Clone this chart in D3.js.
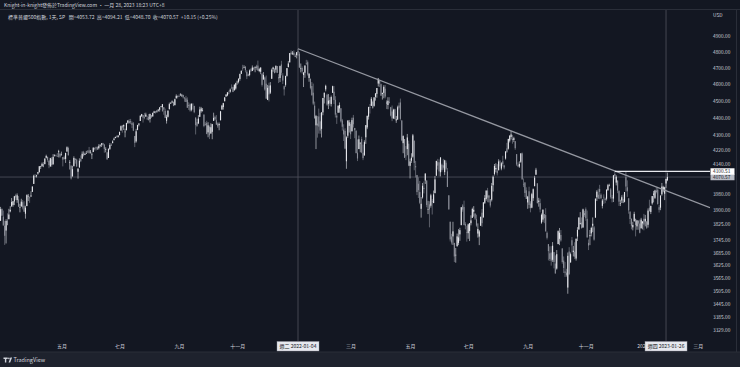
<!DOCTYPE html>
<html><head><meta charset="utf-8">
<script src="https://cdn.jsdelivr.net/npm/d3@7"></script>
<style>html,body{margin:0;padding:0;background:#131722;overflow:hidden}</style>
</head><body><svg id="c" width="740" height="367"></svg>
<script>
// ---- categories: trading days ----
const tradingMonths = ["2021-03","2021-04","2021-05","2021-06","2021-07","2021-08","2021-09","2021-10","2021-11","2021-12",
  "2022-01","2022-02","2022-03","2022-04","2022-05","2022-06","2022-07","2022-08","2022-09","2022-10","2022-11","2022-12","2023-01"];
const tradingDays = [
 [1,2,3,4,5,8,9,10,11,12,15,16,17,18,19,22,23,24,25,26,29,30,31],
 [1,5,6,7,8,9,12,13,14,15,16,19,20,21,22,23,26,27,28,29,30],
 [3,4,5,6,7,10,11,12,13,14,17,18,19,20,21,24,25,26,27,28],
 [1,2,3,4,7,8,9,10,11,14,15,16,17,18,21,22,23,24,25,28,29,30],
 [1,2,6,7,8,9,12,13,14,15,16,19,20,21,22,23,26,27,28,29,30],
 [2,3,4,5,6,9,10,11,12,13,16,17,18,19,20,23,24,25,26,27,30,31],
 [1,2,3,7,8,9,10,13,14,15,16,17,20,21,22,23,24,27,28,29,30],
 [1,4,5,6,7,8,11,12,13,14,15,18,19,20,21,22,25,26,27,28,29],
 [1,2,3,4,5,8,9,10,11,12,15,16,17,18,19,22,23,24,26,29,30],
 [1,2,3,6,7,8,9,10,13,14,15,16,17,20,21,22,23,27,28,29,30,31],
 [3,4,5,6,7,10,11,12,13,14,18,19,20,21,24,25,26,27,28,31],
 [1,2,3,4,7,8,9,10,11,14,15,16,17,18,22,23,24,25,28],
 [1,2,3,4,7,8,9,10,11,14,15,16,17,18,21,22,23,24,25,28,29,30,31],
 [1,4,5,6,7,8,11,12,13,14,18,19,20,21,22,25,26,27,28,29],
 [2,3,4,5,6,9,10,11,12,13,16,17,18,19,20,23,24,25,26,27,31],
 [1,2,3,6,7,8,9,10,13,14,15,16,17,21,22,23,24,27,28,29,30],
 [1,5,6,7,8,11,12,13,14,15,18,19,20,21,22,25,26,27,28,29],
 [1,2,3,4,5,8,9,10,11,12,15,16,17,18,19,22,23,24,25,26,29,30,31],
 [1,2,6,7,8,9,12,13,14,15,16,19,20,21,22,23,26,27,28,29,30],
 [3,4,5,6,7,10,11,12,13,14,17,18,19,20,21,24,25,26,27,28,31],
 [1,2,3,4,7,8,9,10,11,14,15,16,17,18,21,22,23,25,28,29,30],
 [1,2,5,6,7,8,9,12,13,14,15,16,19,20,21,22,23,27,28,29,30],
 [3,4,5,6,9,10,11,12,13,17,18,19,20,23,24,25,26,27]
];
// empty future sessions shown on the right of the time axis
const futureDates = ["2023-01-30","2023-01-31","2023-02-01","2023-02-02","2023-02-03","2023-02-06","2023-02-07","2023-02-08","2023-02-09","2023-02-10",
 "2023-02-13","2023-02-14","2023-02-15","2023-02-16","2023-02-17","2023-02-21","2023-02-22","2023-02-23","2023-02-24","2023-02-27","2023-02-28",
 "2023-03-01","2023-03-02","2023-03-03","2023-03-06","2023-03-07","2023-03-08","2023-03-09","2023-03-10","2023-03-13","2023-03-14"];

// ---- series: S&P 500 daily OHLC ----
const openP = [
 3843,3903,3864,3818,3794,3844,3851,3891,3916,3924,3942,3974,3949,3953,3913,3916,3938,3920,3879,3918,3969,3963,3968,
 3992,4034,4075,4075,4089,4096,4125,4130,4141,4140,4175,4180,4160,4128,4170,4139,4185,4188,4185,4206,4198,
 4192,4179,4177,4169,4210,4229,4150,4131,4074,4130,4170,4165,4099,4122,4168,4170,4205,4191,4201,4210,
 4216,4207,4192,4207,4229,4233,4233,4228,4242,4248,4256,4248,4220,4205,4174,4224,4249,4256,4275,4285,4294,4291,
 4301,4327,4356,4351,4321,4329,4372,4381,4381,4370,4368,4296,4266,4331,4361,4382,4409,4416,4403,4407,4396,
 4406,4393,4416,4408,4429,4437,4435,4442,4447,4464,4462,4462,4441,4383,4406,4450,4484,4490,4493,4474,4514,4529,
 4528,4534,4532,4535,4518,4514,4506,4474,4479,4447,4477,4469,4402,4375,4368,4406,4439,4442,4419,4363,4371,
 4317,4348,4310,4320,4383,4406,4386,4368,4358,4386,4448,4463,4497,4525,4532,4547,4554,4579,4581,4562,4573,
 4610,4613,4631,4662,4699,4702,4707,4675,4660,4655,4689,4680,4701,4700,4708,4713,4679,4675,4664,4628,4640,
 4602,4505,4590,4548,4632,4691,4691,4688,4710,4642,4637,4720,4652,4587,4595,4650,4703,4733,4795,4788,4794,4776,
 4778,4804,4787,4693,4698,4655,4669,4729,4734,4637,4632,4588,4548,4471,4357,4367,4408,4380,4337,4432,
 4519,4568,4536,4482,4505,4481,4547,4554,4506,4413,4430,4455,4456,4385,4332,4325,4156,4298,4354,
 4364,4323,4401,4342,4327,4203,4223,4253,4279,4203,4188,4289,4345,4407,4462,4470,4494,4470,4523,4541,4603,4624,4599,
 4540,4547,4572,4495,4475,4494,4462,4437,4397,4450,4385,4390,4472,4490,4385,4256,4279,4187,4223,4253,
 4131,4159,4181,4270,4129,4081,4035,3991,3904,3963,4013,4052,4052,3899,3927,3920,3942,3934,3985,4078,4151,
 4150,4096,4137,4134,4097,4148,4101,3974,3838,3764,3765,3733,3675,3716,3733,3775,3821,3921,3913,3826,3786,
 3781,3792,3831,3858,3889,3880,3851,3779,3764,3818,3884,3860,3935,3955,3999,3965,3954,3951,4027,4087,
 4112,4105,4107,4154,4116,4156,4133,4171,4227,4225,4270,4291,4280,4274,4267,4195,4134,4127,4153,4199,4034,4041,4000,
 3937,3995,3931,3910,3959,4022,4083,4037,3940,3933,3834,3849,3876,3872,3783,3727,3682,3686,3651,3688,3633,
 3609,3727,3753,3772,3706,3647,3595,3590,3520,3691,3638,3746,3689,3690,3657,3764,3799,3826,3834,3809,3882,
 3902,3853,3733,3766,3780,3818,3810,3859,3964,3977,4007,3977,3919,3966,3957,3956,4000,4024,4005,3964,3957,
 4087,4041,4052,3996,3934,3947,3954,3940,4070,4016,3958,3890,3853,3810,3840,3853,3815,3843,3829,3805,3830,
 3853,3840,3840,3823,3910,3888,3932,3977,3961,3999,4003,3912,3910,3979,4001,3982,4036,4053.72
];
const highP = [
 3914,3906,3895,3843,3851,3881,3904,3918,3960,3944,3971,3982,3984,3970,3930,3956,3950,3943,3920,3979,3981,3968,3995,
 4021,4083,4087,4083,4098,4129,4131,4149,4152,4173,4192,4181,4160,4175,4179,4195,4194,4193,4201,4219,4199,
 4209,4179,4187,4202,4238,4236,4162,4135,4131,4183,4171,4170,4117,4172,4188,4210,4213,4203,4213,4218,
 4235,4218,4204,4234,4232,4237,4238,4250,4249,4256,4258,4252,4233,4205,4226,4256,4256,4272,4287,4293,4300,4302,
 4320,4356,4358,4362,4338,4372,4386,4393,4394,4379,4376,4297,4337,4360,4369,4415,4423,4416,4429,4430,4412,
 4422,4424,4417,4430,4441,4439,4446,4450,4462,4468,4480,4462,4454,4418,4443,4489,4493,4502,4496,4513,4538,4532,
 4537,4545,4541,4535,4522,4529,4520,4491,4485,4486,4486,4471,4402,4394,4416,4465,4464,4457,4420,4375,4383,
 4375,4356,4369,4365,4430,4413,4416,4374,4373,4439,4476,4488,4521,4540,4552,4560,4573,4598,4584,4598,4608,
 4621,4636,4664,4684,4718,4715,4708,4685,4665,4689,4697,4714,4701,4708,4718,4744,4699,4702,4664,4673,4646,
 4652,4595,4608,4612,4695,4706,4698,4713,4710,4660,4713,4743,4666,4591,4651,4698,4741,4791,4808,4804,4808,4787,
 4797,4818.62,4798,4726,4708,4673,4715,4749,4745,4666,4633,4612,4603,4495,4417,4411,4454,4429,4432,4517,
 4550,4596,4542,4540,4521,4531,4590,4588,4527,4427,4472,4490,4456,4394,4363,4340,4295,4385,4388,
 4375,4401,4417,4342,4327,4277,4299,4254,4292,4248,4272,4358,4412,4465,4481,4522,4501,4521,4546,4576,4637,4627,4603,
 4549,4593,4594,4503,4521,4521,4464,4472,4453,4453,4411,4471,4489,4513,4386,4300,4279,4240,4308,4270,
 4170,4200,4308,4270,4158,4082,4069,4050,3965,4039,4047,4091,4053,3945,3943,3982,3955,3999,4076,4158,4169,
 4166,4177,4143,4169,4164,4160,4119,3974,3839,3778,3838,3733,3708,3779,3801,3808,3913,3928,3946,3836,3818,
 3829,3832,3871,3910,3918,3880,3874,3830,3797,3864,3903,3939,3975,3999,4013,3976,3954,4039,4079,4141,
 4145,4140,4167,4162,4151,4186,4137,4211,4258,4280,4302,4325.28,4303,4292,4267,4195,4150,4156,4200,4204,4063,4044,4016,
 3971,4019,3943,3987,4010,4077,4120,4037,3961,3956,3880,3900,3877,3907,3790,3727,3716,3717,3737,3688,3672,
 3698,3795,3807,3797,3706,3667,3640,3608,3686,3712,3686,3762,3718,3736,3755,3811,3862,3887,3860,3905,3894,
 3911,3895,3750,3797,3813,3860,3817,3958,4001,4009,4029,3984,3955,3979,3962,4004,4034,4035,4013,3976,4080,
 4100.51,4080,4052,4001,3951,3974,3978,3991,4100.96,4053,3959,3890,3855,3838,3889,3853,3846,3846,3849,3858,3840,
 3878,3873,3840,3906,3951,3920,3970,3997,4003,4016,4016,3923,3973,4039,4024,4019,4062,4094.21
];
const lowP = [
 3843,3867,3818,3723,3730,3821,3851,3886,3916,3915,3923,3950,3935,3914,3886,3916,3901,3889,3854,3918,3944,3935,3966,
 3992,4034,4069,4068,4083,4096,4114,4125,4123,4140,4171,4153,4118,4126,4126,4138,4182,4182,4181,4177,4175,
 4187,4128,4165,4147,4207,4189,4111,4057,4074,4127,4143,4125,4062,4122,4151,4170,4182,4190,4197,4203,
 4197,4198,4168,4206,4216,4215,4219,4221,4233,4235,4242,4203,4205,4165,4174,4218,4240,4256,4271,4283,4286,4287,
 4301,4327,4315,4330,4289,4329,4365,4368,4364,4341,4324,4234,4259,4329,4351,4382,4406,4373,4392,4407,4387,
 4385,4373,4400,4408,4427,4425,4430,4436,4436,4461,4437,4418,4398,4367,4402,4450,4482,4486,4468,4473,4514,4514,
 4523,4528,4522,4513,4494,4493,4458,4446,4436,4438,4448,4427,4305,4348,4364,4406,4430,4437,4346,4355,4306,
 4289,4279,4310,4278,4383,4386,4360,4342,4329,4386,4448,4448,4497,4524,4527,4538,4548,4569,4551,4562,4566,
 4596,4604,4620,4662,4681,4697,4671,4630,4648,4647,4673,4679,4684,4672,4687,4680,4672,4660,4585,4626,4560,
 4511,4504,4496,4540,4632,4675,4665,4670,4667,4606,4612,4653,4600,4531,4584,4645,4703,4733,4780,4779,4775,4766,
 4758,4774,4699,4671,4663,4582,4638,4717,4651,4614,4568,4530,4474,4395,4223,4287,4310,4309,4288,4415,
 4484,4556,4470,4451,4471,4466,4547,4481,4402,4365,4429,4430,4373,4327,4268,4222,4115,4286,4316,
 4279,4322,4345,4284,4199,4157,4223,4205,4200,4162,4187,4252,4335,4390,4425,4469,4455,4465,4501,4518,4585,4582,4530,
 4507,4515,4514,4451,4450,4484,4408,4381,4394,4392,4371,4390,4448,4385,4267,4200,4175,4162,4189,4129,
 4063,4147,4175,4107,4068,3975,3960,3928,3859,3957,3984,4034,3912,3877,3810,3910,3875,3933,3985,4077,4111,
 4074,4074,4099,4110,4081,4107,4017,3900,3740,3725,3723,3640,3637,3716,3722,3743,3821,3889,3820,3800,3739,
 3753,3742,3820,3858,3864,3847,3813,3759,3722,3818,3813,3860,3929,3946,3938,3937,3911,3942,3994,4079,
 4096,4079,4107,4128,4107,4128,4112,4165,4201,4220,4260,4277,4253,4262,4219,4131,4124,4120,4147,4057,4017,3965,3955,
 3904,3907,3886,3907,3945,4022,4083,3932,3915,3886,3828,3838,3831,3789,3750,3648,3645,3623,3641,3610,3585,
 3604,3727,3722,3739,3632,3588,3569,3570,3491.58,3578,3638,3686,3667,3654,3647,3742,3799,3825,3803,3809,3863,
 3843,3759,3698,3722,3765,3786,3744,3859,3944,3956,3954,3954,3906,3929,3933,3947,3999,4021,3956,3937,3939,
 4058,4026,3985,3919,3918,3934,3933,3937,3994,3966,3879,3827,3800,3795,3840,3765,3798,3798,3780,3805,3800,
 3795,3815,3802,3809,3890,3877,3925,3937,3955,3984,3925,3885,3897,3972,3990,3949,4013,4048.70
];
const closeP = [
 3902,3870,3820,3768,3842,3821,3875,3899,3939,3943,3969,3963,3974,3915,3913,3941,3911,3889,3910,3975,3971,3959,3973,
 4020,4078,4074,4080,4097,4129,4128,4142,4125,4170,4185,4163,4135,4173,4135,4180,4188,4187,4183,4211,4181,
 4193,4165,4168,4202,4233,4188,4152,4063,4113,4174,4163,4128,4116,4159,4156,4197,4188,4196,4201,4204,
 4202,4208,4193,4230,4227,4227,4220,4239,4247,4255,4247,4224,4222,4166,4225,4246,4242,4266,4281,4291,4292,4298,
 4320,4352,4344,4358,4321,4370,4385,4369,4374,4360,4327,4258,4323,4359,4367,4412,4422,4401,4401,4419,4395,
 4387,4423,4403,4429,4437,4432,4437,4448,4461,4468,4480,4448,4400,4406,4442,4480,4486,4496,4470,4509,4529,4523,
 4524,4537,4535,4520,4514,4493,4459,4469,4443,4481,4474,4433,4358,4354,4396,4449,4455,4443,4353,4359,4308,
 4357,4300,4346,4364,4400,4391,4361,4351,4364,4438,4471,4486,4520,4536,4550,4545,4566,4575,4552,4596,4605,
 4614,4631,4661,4680,4698,4702,4685,4647,4649,4683,4683,4701,4689,4705,4698,4683,4691,4701,4595,4655,4567,
 4513,4577,4538,4592,4687,4701,4667,4712,4669,4634,4710,4669,4621,4568,4649,4697,4726,4791,4786,4793,4779,4766,
 4797,4794,4701,4696,4677,4670,4713,4726,4659,4663,4577,4533,4483,4398,4410,4356,4350,4327,4432,4516,
 4547,4589,4477,4501,4484,4522,4587,4504,4419,4402,4471,4475,4380,4349,4305,4226,4289,4385,4374,
 4306,4387,4363,4329,4201,4171,4278,4260,4204,4173,4262,4358,4412,4463,4461,4512,4456,4520,4543,4576,4632,4602,4530,
 4546,4583,4525,4481,4500,4488,4413,4397,4447,4393,4392,4462,4459,4394,4272,4296,4175,4184,4288,4132,
 4155,4175,4300,4147,4123,3991,4001,3935,3930,4024,4008,4089,3924,3901,3901,3974,3941,3979,4058,4158,4132,
 4101,4177,4109,4121,4161,4116,4018,3901,3750,3735,3790,3667,3675,3765,3760,3796,3912,3900,3822,3819,3785,
 3825,3831,3845,3903,3899,3854,3819,3802,3790,3863,3831,3937,3960,3999,3962,3967,3921,4024,4072,4130,
 4119,4091,4155,4152,4145,4140,4122,4210,4207,4280,4297,4305,4274,4284,4228,4138,4129,4141,4199,4058,4031,3986,3955,
 3967,3924,3908,3980,4006,4067,4110,3933,3946,3901,3873,3900,3856,3790,3758,3693,3655,3647,3719,3640,3586,
 3678,3791,3783,3745,3640,3612,3589,3577,3670,3583,3678,3720,3695,3666,3753,3797,3859,3831,3807,3901,3872,
 3856,3760,3720,3771,3807,3828,3749,3956,3993,3957,3992,3959,3947,3965,3950,4004,4027,4026,3964,3958,4080,
 4077,4072,3999,3941,3934,3964,3934,3991,4020,3995,3896,3852,3818,3822,3878,3822,3845,3829,3783,3849,3840,
 3824,3853,3808,3895,3892,3919,3970,3983,3999,3991,3929,3899,3973,4020,4017,4016,4060.42,4070.57
];

// ---- tick labels (the 2022 year label is hidden under the crosshair label in the reference) ----
const priceTicks = [4900,4800,4700,4600,4500,4400,4300,4220,4140,3980,3900,3825,3745,3685,3625,3565,3505,3445,3385,3329];
const monthTickDates = ["2021-05-03","2021-07-01","2021-09-01","2021-11-01","2022-03-01","2022-05-02","2022-07-01","2022-09-01","2022-11-01","2023-01-03","2023-03-01"];
const monthTickLabels = ["五月","七月","九月","十一月","三月","五月","七月","九月","十一月","202","三月"];

// ---- drawings ----
const trendAnchorDates = ["2022-01-04","2022-08-16"];
const trendAnchorPrices = [4818.62, 4325.28];
const rayDate = "2022-12-01";
const rayPrice = 4100.51;
const crossDates = ["2022-01-04","2023-01-26"];
const crossDateLabels = ["週二 2022-01-04","週四 2023-01-26"];
const crossPrice = 4070.57;

const titleText = "Knight-in-knight發佈於TradingView.com • 一月 28, 2023 18:23 UTC+8";
const symbolText = "標準普爾500指數, 1天, SP";

// ---- build ----
const pad = n => String(n).padStart(2,"0");
const dates = [];
tradingMonths.forEach((m,k)=>tradingDays[k].forEach(d=>dates.push(m+"-"+pad(d))));
const allDates = dates.concat(futureDates);
const idx = d => allDates.indexOf(d);

const W = 740, H = 367;
const plotL = 0, plotR = 710, plotT = 10, plotB = 341;
const FONT = '"Noto Sans CJK TC","Noto Sans",sans-serif';
const BG = "#131722", TXT = "#d1d4dc";
const upColor = "#e6e7ec", downColor = "#8d909a";

const svg = d3.select("#c");
svg.append("rect").attr("width",W).attr("height",H).attr("fill",BG);

const x = d3.scaleLinear().domain([0, allDates.length-1]).range([0.55, 710.3]);
const y = d3.scaleLog().domain([3329, 4900]).range([330, 36]);

// frame lines
svg.append("line").attr("x1",0).attr("x2",W).attr("y1",9.5).attr("y2",9.5).attr("stroke","#2a2e39").attr("stroke-width",1);
svg.append("line").attr("x1",736.5).attr("x2",736.5).attr("y1",10).attr("y2",352).attr("stroke","#2a2e39");
svg.append("rect").attr("x",0).attr("y",352).attr("width",W).attr("height",15).attr("fill","#1e222d");
svg.append("line").attr("x1",0).attr("x2",W).attr("y1",352).attr("y2",352).attr("stroke","#2a2e39");

// header
svg.append("text").attr("x",4).attr("y",7).attr("font-family",FONT).attr("font-size",5).attr("fill",TXT).text(titleText);
const n = closeP.length;
const chg = closeP[n-1]-closeP[n-2];
const hdr = svg.append("text").attr("x",8).attr("y",19).attr("font-family",FONT).attr("font-size",5).attr("fill",TXT).attr("xml:space","preserve");
hdr.text(symbolText + "   開=" + openP[n-1].toFixed(2) + "  高=" + highP[n-1].toFixed(2) + "  低=" + lowP[n-1].toFixed(2) +
  "  收=" + closeP[n-1].toFixed(2) + "  " + (chg>=0?"+":"") + chg.toFixed(2) + " (" + (chg>=0?"+":"") + (chg/closeP[n-2]*100).toFixed(2) + "%)");

// clip
svg.append("clipPath").attr("id","clip").append("rect").attr("x",plotL).attr("y",plotT).attr("width",plotR-plotL).attr("height",plotB-plotT);
const plot = svg.append("g").attr("clip-path","url(#clip)");

// crosshair lines
crossDates.forEach(d=>{
  plot.append("line").attr("x1",x(idx(d))).attr("x2",x(idx(d))).attr("y1",plotT).attr("y2",plotB)
    .attr("stroke","#50535e").attr("stroke-width",0.8);
});
plot.append("line").attr("x1",plotL).attr("x2",plotR).attr("y1",y(crossPrice)).attr("y2",y(crossPrice))
  .attr("stroke","#50535e").attr("stroke-width",0.8);

// candles
const bars = dates.map((d,i)=>({i, o:openP[i], h:highP[i], l:lowP[i], c:closeP[i]}));
plot.append("g").selectAll("line").data(bars).join("line")
  .attr("x1",d=>x(d.i)).attr("x2",d=>x(d.i)).attr("y1",d=>y(d.h)).attr("y2",d=>y(d.l))
  .attr("stroke",d=>d.c>=d.o?upColor:downColor).attr("stroke-width",0.6);
plot.append("g").selectAll("rect").data(bars).join("rect")
  .attr("x",d=>x(d.i)-0.55).attr("width",1.1)
  .attr("y",d=>y(Math.max(d.o,d.c))).attr("height",d=>Math.max(0.6, Math.abs(y(d.o)-y(d.c))))
  .attr("fill",d=>d.c>=d.o?upColor:downColor);

// trend line (log-space), extended to right edge
const i1 = idx(trendAnchorDates[0]), i2 = idx(trendAnchorDates[1]);
const slope = (Math.log(trendAnchorPrices[1]) - Math.log(trendAnchorPrices[0]))/(i2-i1);
const iEnd = x.invert(plotR);
const pEnd = Math.exp(Math.log(trendAnchorPrices[0]) + slope*(iEnd-i1));
plot.append("line").attr("x1",x(i1)).attr("y1",y(trendAnchorPrices[0])).attr("x2",plotR).attr("y2",y(pEnd))
  .attr("stroke","#9598a1").attr("stroke-width",1.3);

// horizontal ray
plot.append("line").attr("x1",x(idx(rayDate))).attr("x2",plotR).attr("y1",y(rayPrice)).attr("y2",y(rayPrice))
  .attr("stroke","#e8e9ee").attr("stroke-width",1.3);

// price axis
const yAxis = svg.append("g").attr("transform","translate(711,0)")
  .call(d3.axisRight(y).tickValues(priceTicks).tickSize(0).tickPadding(2).tickFormat(d=>d.toFixed(2)));
yAxis.select(".domain").remove();
yAxis.selectAll("text").attr("font-family",FONT).attr("font-size",4.8).attr("fill",TXT);
svg.append("text").attr("x",713).attr("y",17).attr("font-family",FONT).attr("font-size",4.8).attr("fill",TXT).text("USD");

// price labels
function priceBox(p, fill){
  const yy = y(p);
  svg.append("rect").attr("x",710.5).attr("y",yy-3.2).attr("width",24).attr("height",6.4).attr("fill",fill);
  svg.append("text").attr("x",713).attr("y",yy).attr("dy","0.35em").attr("font-family",FONT).attr("font-size",4.8).attr("fill","#131722").text(p.toFixed(2));
}
priceBox(crossPrice, "#b8bbc4");
priceBox(rayPrice, "#ffffff");

// time axis (labels centred on first session of the month; the partly covered year label ends at the crosshair box)
const xAxis = svg.append("g").attr("transform","translate(0,341)")
  .call(d3.axisBottom(x).tickValues(monthTickDates.map(idx)).tickSize(0).tickPadding(3)
    .tickFormat((d,k)=>monthTickLabels[k]));
xAxis.select(".domain").remove();
xAxis.selectAll("text").attr("font-family",FONT).attr("font-size",5).attr("fill",TXT);
xAxis.selectAll("text").filter((d,k)=>monthTickLabels[k]==="202").attr("text-anchor","end").attr("x",1.2);

// crosshair date labels
crossDates.forEach((d,k)=>{
  const cx = x(idx(d));
  svg.append("rect").attr("x",cx-21).attr("y",341.5).attr("width",42).attr("height",9.5).attr("fill","#e6e8ee").attr("stroke","#9598a1").attr("stroke-width",0.4);
  svg.append("text").attr("x",cx).attr("y",346.3).attr("dy","0.35em").attr("text-anchor","middle").attr("font-family",FONT).attr("font-size",5).attr("fill","#131722").text(crossDateLabels[k]);
});

// footer logo
svg.append("path").attr("d","M3.5 357.6h4.2v1.5h-1.4v3.3h-1.4v-3.3h-1.4z").attr("fill",TXT);
svg.append("circle").attr("cx",8.9).attr("cy",358.4).attr("r",0.8).attr("fill",TXT);
svg.append("path").attr("d","M10.4 357.6h1.7l-1.9 4.8h-1.6z").attr("fill",TXT);
svg.append("text").attr("x",13.5).attr("y",361.8).attr("font-family",FONT).attr("font-size",5.5).attr("fill",TXT).text("TradingView");
</script>
</body></html>
